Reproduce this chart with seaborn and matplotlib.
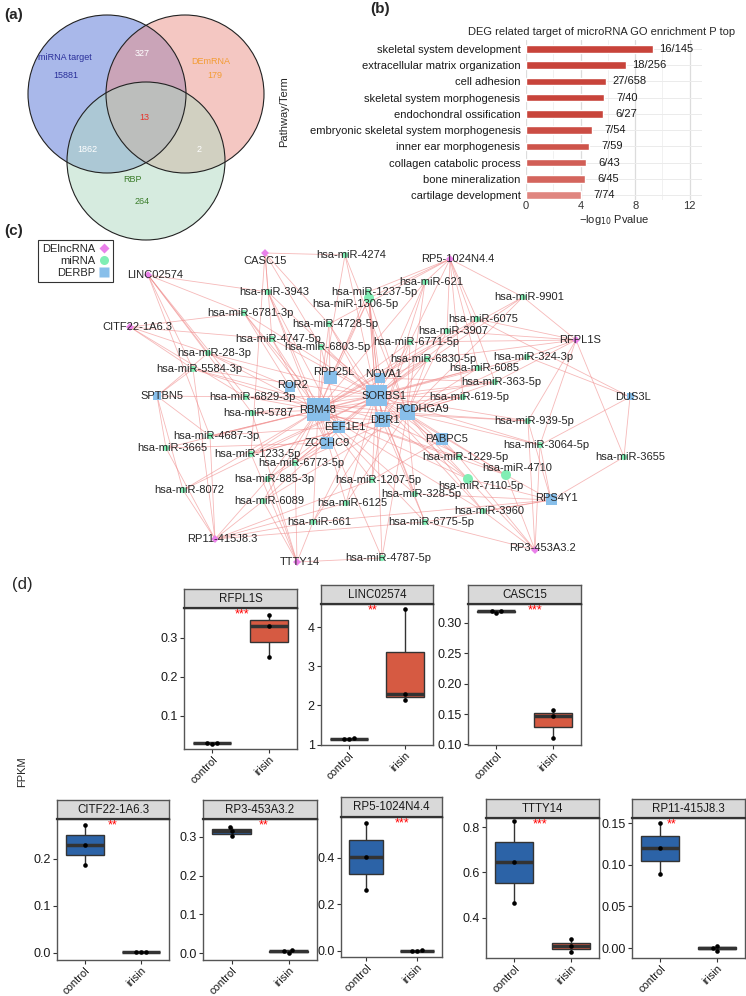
import matplotlib
matplotlib.use('Agg')
import matplotlib.pyplot as plt
from matplotlib.patches import Circle
from matplotlib.lines import Line2D
from matplotlib.collections import LineCollection
from matplotlib.ticker import FormatStrFormatter
import numpy as np
import pandas as pd
import seaborn as sns

# ---------------- data ----------------
# (a) Venn counts
venn_names = ['miRNA target', 'DEmRNA', 'RBP']
venn_only = [15881, 179, 264]
venn_ab, venn_ac, venn_bc, venn_abc = 327, 1862, 2, 13

# (b) GO enrichment
go_terms = ['skeletal system development', 'extracellular matrix organization', 'cell adhesion',
            'skeletal system morphogenesis', 'endochondral ossification',
            'embryonic skeletal system morphogenesis', 'inner ear morphogenesis',
            'collagen catabolic process', 'bone mineralization', 'cartilage development']
go_logp = [9.3, 7.35, 5.85, 5.75, 5.65, 4.85, 4.6, 4.4, 4.3, 4.0]
go_ratio = ['16/145', '18/256', '27/658', '7/40', '6/27', '7/54', '7/59', '6/43', '6/45', '7/74']

# (c) network
lncrnas = ['CASC15', 'LINC02574', 'CITF22-1A6.3', 'RP5-1024N4.4', 'RFPL1S',
           'RP11-415J8.3', 'TTTY14', 'RP3-453A3.2']
rbps = ['RBM48', 'SORBS1', 'PCDHGA9', 'DBR1', 'RPP25L', 'EEF1E1', 'ZCCHC9', 'ROR2',
        'NOVA1', 'PABPC5', 'RPS4Y1', 'SPTBN5', 'DUS3L']
mirnas = ['4274', '621', '3943', '1237-5p', '1306-5p', '6781-3p', '4728-5p', '4747-5p',
          '6803-5p', '6771-5p', '28-3p', '5584-3p', '6829-3p', '5787', '4687-3p', '3665',
          '1233-5p', '6773-5p', '885-3p', '8072', '6089', '1207-5p', '6125', '661',
          '4787-5p', '328-5p', '6775-5p', '3960', '7110-5p', '4710', '1229-5p', '3064-5p',
          '3655', '939-5p', '619-5p', '363-5p', '6085', '324-3p', '6830-5p', '3907',
          '6075', '9901']
lnc_targets = {
    'CASC15': ['4274', '3943', '4747-5p', '6803-5p', '4728-5p', '1233-5p'],
    'LINC02574': ['6781-3p', '28-3p', '5584-3p', '6829-3p', '5787', '3943', '4687-3p'],
    'CITF22-1A6.3': ['6781-3p', '28-3p', '5584-3p', '4747-5p', '6829-3p'],
    'RP5-1024N4.4': ['621', '1237-5p', '1306-5p', '9901', '6075', '3907', '6771-5p',
                     '6085', '363-5p', '4728-5p', '619-5p'],
    'RFPL1S': ['9901', '6075', '3907', '324-3p', '3064-5p', '3655', '939-5p', '6830-5p',
               '6771-5p', '363-5p'],
    'RP11-415J8.3': ['3665', '8072', '4687-3p', '885-3p', '661', '6125', '6775-5p',
                     '5584-3p', '1207-5p', '6089'],
    'TTTY14': ['4787-5p', '661', '885-3p', '6089', '1233-5p', '5787', '6773-5p'],
    'RP3-453A3.2': ['3960', '4710', '7110-5p', '1229-5p', '3064-5p', '939-5p', '6775-5p'],
}
mirna_rbp = {
    '4274': ['SORBS1', 'RBM48', 'PCDHGA9'],
    '621': ['SORBS1', 'DBR1', 'PCDHGA9', 'RBM48'],
    '3943': ['RBM48', 'SORBS1', 'EEF1E1', 'ZCCHC9'],
    '1237-5p': ['SORBS1', 'RBM48', 'DBR1', 'NOVA1'],
    '1306-5p': ['SORBS1', 'RBM48', 'PCDHGA9', 'RPP25L', 'DBR1'],
    '6781-3p': ['RBM48', 'ROR2', 'SORBS1', 'EEF1E1'],
    '4728-5p': ['SORBS1', 'RBM48', 'RPP25L', 'DBR1'],
    '4747-5p': ['RBM48', 'SORBS1', 'ZCCHC9'],
    '6803-5p': ['RBM48', 'SORBS1', 'PCDHGA9', 'EEF1E1'],
    '6771-5p': ['SORBS1', 'DBR1', 'PCDHGA9', 'RBM48'],
    '28-3p': ['SPTBN5', 'RBM48', 'SORBS1', 'ROR2'],
    '5584-3p': ['SPTBN5', 'RBM48', 'SORBS1', 'DBR1'],
    '6829-3p': ['RBM48', 'SORBS1', 'SPTBN5', 'PCDHGA9'],
    '5787': ['RBM48', 'SORBS1', 'DBR1'],
    '4687-3p': ['SPTBN5', 'RBM48', 'SORBS1', 'EEF1E1'],
    '3665': ['SPTBN5', 'RBM48', 'ZCCHC9'],
    '1233-5p': ['RBM48', 'SORBS1', 'DBR1', 'PCDHGA9'],
    '6773-5p': ['RBM48', 'SORBS1', 'EEF1E1', 'PCDHGA9'],
    '885-3p': ['RBM48', 'SORBS1', 'ZCCHC9'],
    '8072': ['SPTBN5', 'RBM48', 'SORBS1'],
    '6089': ['RBM48', 'SORBS1', 'PCDHGA9'],
    '1207-5p': ['SORBS1', 'RBM48', 'DBR1', 'PABPC5'],
    '6125': ['RBM48', 'SORBS1', 'PCDHGA9'],
    '661': ['RBM48', 'SORBS1', 'DBR1', 'RPS4Y1'],
    '4787-5p': ['SORBS1', 'RBM48', 'PCDHGA9'],
    '328-5p': ['SORBS1', 'RBM48', 'PCDHGA9', 'RPS4Y1'],
    '6775-5p': ['SORBS1', 'RBM48', 'DBR1', 'RPS4Y1'],
    '3960': ['PCDHGA9', 'SORBS1', 'RPS4Y1', 'RBM48'],
    '7110-5p': ['PCDHGA9', 'SORBS1', 'RBM48', 'RPS4Y1', 'DBR1'],
    '4710': ['PCDHGA9', 'SORBS1', 'RPS4Y1', 'DBR1', 'RBM48'],
    '1229-5p': ['PCDHGA9', 'SORBS1', 'RBM48', 'PABPC5'],
    '3064-5p': ['DUS3L', 'PCDHGA9', 'SORBS1', 'RPS4Y1'],
    '3655': ['DUS3L', 'RPS4Y1'],
    '939-5p': ['PCDHGA9', 'SORBS1', 'RBM48', 'RPS4Y1'],
    '619-5p': ['PCDHGA9', 'SORBS1', 'DBR1', 'RBM48'],
    '363-5p': ['PCDHGA9', 'SORBS1', 'RBM48', 'NOVA1'],
    '6085': ['SORBS1', 'PCDHGA9', 'RBM48'],
    '324-3p': ['DUS3L', 'SORBS1', 'PCDHGA9'],
    '6830-5p': ['SORBS1', 'RBM48', 'PCDHGA9', 'DBR1'],
    '3907': ['SORBS1', 'RBM48', 'PCDHGA9'],
    '6075': ['SORBS1', 'DUS3L', 'RBM48'],
    '9901': ['SORBS1', 'RBM48', 'PCDHGA9'],
}

# (d) FPKM values
box_genes = ['RFPL1S', 'LINC02574', 'CASC15', 'CITF22-1A6.3', 'RP3-453A3.2',
             'RP5-1024N4.4', 'TTTY14', 'RP11-415J8.3']
fpkm_control = {
    'RFPL1S': [0.029, 0.030, 0.031], 'LINC02574': [1.14, 1.15, 1.16],
    'CASC15': [0.317, 0.319, 0.320], 'CITF22-1A6.3': [0.188, 0.230, 0.272],
    'RP3-453A3.2': [0.302, 0.315, 0.326], 'RP5-1024N4.4': [0.26, 0.405, 0.55],
    'TTTY14': [0.465, 0.645, 0.825], 'RP11-415J8.3': [0.089, 0.120, 0.150]}
fpkm_irisin = {
    'RFPL1S': [0.25, 0.33, 0.36], 'LINC02574': [2.15, 2.30, 4.45],
    'CASC15': [0.111, 0.147, 0.156], 'CITF22-1A6.3': [0.001, 0.002, 0.003],
    'RP3-453A3.2': [0.001, 0.004, 0.008], 'RP5-1024N4.4': [0.000, 0.001, 0.002],
    'TTTY14': [0.25, 0.275, 0.305], 'RP11-415J8.3': [-0.003, 0.000, 0.003]}
signif = {'RFPL1S': '***', 'LINC02574': '**', 'CASC15': '***', 'CITF22-1A6.3': '**',
          'RP3-453A3.2': '**', 'RP5-1024N4.4': '***', 'TTTY14': '***', 'RP11-415J8.3': '**'}
box_yticks = {
    'RFPL1S': [0.1, 0.2, 0.3], 'LINC02574': [1, 2, 3, 4],
    'CASC15': [0.10, 0.15, 0.20, 0.25, 0.30], 'CITF22-1A6.3': [0.0, 0.1, 0.2],
    'RP3-453A3.2': [0.0, 0.1, 0.2, 0.3], 'RP5-1024N4.4': [0.0, 0.2, 0.4],
    'TTTY14': [0.4, 0.6, 0.8], 'RP11-415J8.3': [0.00, 0.05, 0.10, 0.15]}

# ---------------- layout (pixels) ----------------
venn_centers = [(107, 94), (185, 94), (146, 161)]
venn_r = 79
venn_name_pos = [(65, 58), (211, 61), (133, 179)]
venn_only_pos = [(66, 75), (215, 75), (142, 202)]
venn_mid_pos = {'ab': (142, 54), 'ac': (87, 149), 'bc': (199, 149), 'abc': (144, 117)}

lnc_pos = {'CASC15': (265, 253), 'LINC02574': (148, 275), 'CITF22-1A6.3': (130, 327),
           'RP5-1024N4.4': (450, 259), 'RFPL1S': (576, 340), 'RP11-415J8.3': (215, 539),
           'TTTY14': (297, 562), 'RP3-453A3.2': (535, 550)}
lnc_lab_off = {'CASC15': (0, 8), 'LINC02574': (7, 0), 'CITF22-1A6.3': (7, 0),
               'RP5-1024N4.4': (8, 0), 'RFPL1S': (4, 0), 'RP11-415J8.3': (7, 0),
               'TTTY14': (3, 0), 'RP3-453A3.2': (7, -2)}
rbp_pos = {'RBM48': (318, 410), 'SORBS1': (376, 396), 'PCDHGA9': (407, 413),
           'DBR1': (382, 420), 'RPP25L': (330, 378), 'EEF1E1': (339, 427),
           'ZCCHC9': (327, 443), 'ROR2': (290, 387), 'NOVA1': (380, 378),
           'PABPC5': (442, 439), 'RPS4Y1': (551, 500), 'SPTBN5': (157, 396),
           'DUS3L': (630, 397)}
rbp_lab_off = {'RBM48': (0, 0), 'SORBS1': (8, 0), 'PCDHGA9': (15, -4), 'DBR1': (3, 0),
               'RPP25L': (4, -6), 'EEF1E1': (6, 0), 'ZCCHC9': (0, 0), 'ROR2': (3, -2),
               'NOVA1': (4, -4), 'PABPC5': (5, 0), 'RPS4Y1': (5, -2), 'SPTBN5': (5, 0),
               'DUS3L': (3, 0)}
rbp_side = {'RBM48': 23, 'SORBS1': 21, 'PCDHGA9': 15, 'DBR1': 15, 'RPP25L': 13,
            'EEF1E1': 12, 'ZCCHC9': 12, 'ROR2': 10, 'NOVA1': 10, 'PABPC5': 12,
            'RPS4Y1': 11, 'SPTBN5': 8, 'DUS3L': 7}
mir_pos = {'4274': (345, 255), '621': (425, 282), '3943': (268, 292), '1237-5p': (368, 292),
           '1306-5p': (369, 298), '6781-3p': (244, 313), '4728-5p': (329, 324),
           '4747-5p': (272, 339), '6803-5p': (321, 347), '6771-5p': (410, 342),
           '28-3p': (208, 353), '5584-3p': (193, 369), '6829-3p': (246, 397),
           '5787': (252, 413), '4687-3p': (210, 436), '3665': (166, 448),
           '1233-5p': (251, 454), '6773-5p': (295, 463), '885-3p': (268, 479),
           '8072': (183, 490), '6089': (263, 501), '1207-5p': (372, 480),
           '6125': (346, 503), '661': (313, 522), '4787-5p': (382, 558),
           '328-5p': (415, 494), '6775-5p': (425, 522), '3960': (483, 511),
           '7110-5p': (468, 479), '4710': (506, 475), '1229-5p': (459, 457),
           '3064-5p': (540, 445), '3655': (624, 457), '939-5p': (528, 421),
           '619-5p': (463, 397), '363-5p': (495, 382), '6085': (478, 368),
           '324-3p': (527, 357), '6830-5p': (427, 359), '3907': (447, 331),
           '6075': (477, 319), '9901': (523, 297)}
mir_lab_off = {'1306-5p': (-14, 6), '7110-5p': (13, 7), '4710': (11, -7)}
mir_big = ['1306-5p', '7110-5p', '4710']

# (left, strip top, panel top, right, panel bottom)
box_layout = {'RFPL1S': (184, 589, 608, 297, 749), 'LINC02574': (321, 585, 604, 433, 745),
              'CASC15': (468, 585, 604, 581, 745), 'CITF22-1A6.3': (57, 800, 819, 169, 960),
              'RP3-453A3.2': (203, 800, 819, 317, 960), 'RP5-1024N4.4': (341, 797, 817, 442, 957),
              'TTTY14': (486, 799, 818, 599, 958), 'RP11-415J8.3': (632, 799, 818, 745, 958)}
box_ylim = {'RFPL1S': (0.015, 0.377), 'LINC02574': (0.99, 4.59), 'CASC15': (0.099, 0.331),
            'CITF22-1A6.3': (-0.015, 0.285), 'RP3-453A3.2': (-0.018, 0.346),
            'RP5-1024N4.4': (-0.026, 0.576), 'TTTY14': (0.223, 0.84),
            'RP11-415J8.3': (-0.012, 0.156)}
star_x = {'RFPL1S': 0.51, 'LINC02574': 0.46, 'CASC15': 0.59, 'CITF22-1A6.3': 0.5,
          'RP3-453A3.2': 0.53, 'RP5-1024N4.4': 0.6, 'TTTY14': 0.48, 'RP11-415J8.3': 0.35}

# ---------------- style ----------------
sns.set_style('white')
plt.rcParams['font.family'] = ['Liberation Sans', 'DejaVu Sans']
plt.rcParams['font.size'] = 8

W, H = 746, 996
fig = plt.figure(figsize=(W / 100, H / 100), dpi=100)


def px_axes(l, t, r, b):
    return fig.add_axes([l / W, 1 - b / H, (r - l) / W, (b - t) / H])


def fig_text(x, y, s, **kw):
    fig.text(x / W, 1 - y / H, s, **kw)


# ---------------- (a) Venn ----------------
ax_a = px_axes(0, 0, 290, 245)
ax_a.set_xlim(0, 290)
ax_a.set_ylim(245, 0)
ax_a.axis('off')
venn_fill = ['#5573d7', '#eb9187', '#afd9c1']
for (cx, cy), col in zip(venn_centers, venn_fill):
    ax_a.add_patch(Circle((cx, cy), venn_r, facecolor=col, alpha=0.5, edgecolor='none'))
for cx, cy in venn_centers:
    ax_a.add_patch(Circle((cx, cy), venn_r, fill=False, edgecolor='#222222', lw=0.8))
venn_txt_col = ['#2a2f9a', '#f39c33', '#3b7d2b']
for name, n, p1, p2, col in zip(venn_names, venn_only, venn_name_pos, venn_only_pos, venn_txt_col):
    ax_a.text(*p1, name, color=col, fontsize=6.5, ha='center', va='center')
    ax_a.text(*p2, str(n), color=col, fontsize=6.5, ha='center', va='center')
for key, n in zip(['ab', 'ac', 'bc'], [venn_ab, venn_ac, venn_bc]):
    ax_a.text(*venn_mid_pos[key], str(n), color='white', fontsize=6.5, ha='center', va='center')
ax_a.text(*venn_mid_pos['abc'], str(venn_abc), color='#e8322a', fontsize=6.5,
          ha='center', va='center')

# ---------------- (b) GO bars ----------------
ax_b = px_axes(526, 40, 702, 200)
p_vals = 10 ** (-np.array(go_logp))
t = 1 - p_vals / p_vals.max()
lo = np.array([0.878, 0.525, 0.50])
hi = np.array([0.784, 0.263, 0.227])
bar_cols = [tuple(lo + (hi - lo) * ti) for ti in t]
sns.barplot(x=go_logp, y=go_terms, hue=go_terms, palette=bar_cols, orient='h',
            width=0.47, legend=False, ax=ax_b, saturation=1)
ax_b.set_xlim(0, 12.9)
ax_b.set_ylim(9.3, -0.55)
ax_b.set_xticks([0, 4, 8, 12])
ax_b.set_xticks([2, 6, 10], minor=True)
ax_b.set_axisbelow(True)
ax_b.grid(True, which='major', axis='x', color='#dcdcdc', lw=0.9)
ax_b.grid(True, which='minor', axis='x', color='#efefef', lw=0.6)
ax_b.grid(True, which='major', axis='y', color='#ebebeb', lw=0.7)
sns.despine(ax=ax_b, left=True, bottom=True)
ax_b.tick_params(which='both', length=0, labelsize=8, pad=3)
ax_b.tick_params(axis='y', labelcolor='#1a1a1a', pad=4)
ax_b.tick_params(axis='x', labelcolor='#333333', pad=1)
for i, (v, lab) in enumerate(zip(go_logp, go_ratio)):
    ax_b.text(v + 1.7, i, lab, ha='center', va='center', fontsize=8, color='#1a1a1a')
ax_b.set_xlabel('\u2212log$_{10}$ Pvalue', fontsize=8, labelpad=1)
ax_b.set_ylabel('')
fig_text(602, 32, 'DEG related target of microRNA GO enrichment P top', fontsize=8,
         ha='center', va='center')
fig_text(284, 112, 'Pathway/Term', fontsize=8, rotation=90, ha='center', va='center')

# ---------------- (c) network ----------------
ax_c = px_axes(0, 235, 746, 575)
ax_c.set_xlim(0, 746)
ax_c.set_ylim(575, 235)
ax_c.axis('off')

segs = []
for lnc, targets in lnc_targets.items():
    for m in targets:
        segs.append([lnc_pos[lnc], mir_pos[m]])
for m, targets in mirna_rbp.items():
    for r in targets:
        segs.append([mir_pos[m], rbp_pos[r]])
ax_c.add_collection(LineCollection(segs, colors='#f08a8a', linewidths=0.6, alpha=0.6, zorder=1))

node_rows = []
for n in lncrnas:
    node_rows.append((n, 'DElncRNA', lnc_pos[n][0], lnc_pos[n][1], 16))
for m in mirnas:
    area = 52 if m in mir_big else 20
    node_rows.append(('hsa-miR-' + m, 'miRNA', mir_pos[m][0], mir_pos[m][1], area))
for r in rbps:
    node_rows.append((r, 'DERBP', rbp_pos[r][0], rbp_pos[r][1], (0.72 * rbp_side[r]) ** 2))
nodes = pd.DataFrame(node_rows, columns=['name', 'type', 'x', 'y', 'area'])
node_pal = {'DElncRNA': '#ea80ea', 'miRNA': '#80eeb4', 'DERBP': '#88bfea'}
node_mark = {'DElncRNA': 'D', 'miRNA': 'o', 'DERBP': 's'}
amin, amax = nodes['area'].min(), nodes['area'].max()
sns.scatterplot(data=nodes, x='x', y='y', hue='type', style='type', size='area',
                sizes=(amin, amax), size_norm=(amin, amax), palette=node_pal,
                markers=node_mark, linewidth=0, legend=False, ax=ax_c, zorder=2)
ax_c.set_xlim(0, 746)
ax_c.set_ylim(575, 235)

for n in lncrnas:
    dx, dy = lnc_lab_off[n]
    ax_c.text(lnc_pos[n][0] + dx, lnc_pos[n][1] + dy, n, ha='center', va='center',
              fontsize=8, zorder=4)
for m in mirnas:
    dx, dy = mir_lab_off.get(m, (6, 0))
    ax_c.text(mir_pos[m][0] + dx, mir_pos[m][1] + dy, 'hsa-miR-' + m, ha='center',
              va='center', fontsize=8, zorder=4)
for r in rbps:
    dx, dy = rbp_lab_off[r]
    ax_c.text(rbp_pos[r][0] + dx, rbp_pos[r][1] + dy, r, ha='center', va='center',
              fontsize=8, zorder=4)

handles = [Line2D([], [], marker=node_mark[k], linestyle='none', markerfacecolor=node_pal[k],
                  markeredgecolor='none', markersize=ms)
           for k, ms in zip(['DElncRNA', 'miRNA', 'DERBP'], [5, 6.5, 7])]
leg = fig.legend(handles, ['DElncRNA', 'miRNA', 'DERBP'], loc='upper left',
                 bbox_to_anchor=(38 / W, 1 - 240 / H), markerfirst=False, frameon=True,
                 fancybox=False, edgecolor='black', borderpad=0.35, labelspacing=0.2,
                 handletextpad=0.3, handlelength=1.0, fontsize=8, borderaxespad=0)
leg.get_frame().set_linewidth(0.8)

# ---------------- (d) boxplots ----------------
box_pal = {'control': '#2c63a7', 'irisin': '#d65a42'}
for g in box_genes:
    l, st, pt, r, pb = box_layout[g]
    df = pd.DataFrame({'group': ['control'] * 3 + ['irisin'] * 3,
                       'FPKM': fpkm_control[g] + fpkm_irisin[g]})
    ax = px_axes(l, pt, r, pb)
    sns.boxplot(data=df, x='group', y='FPKM', hue='group', palette=box_pal, width=0.68,
                linewidth=1, linecolor='#333333', showfliers=False, showcaps=False,
                medianprops={'linewidth': 2.5}, saturation=1, legend=False, ax=ax)
    sns.swarmplot(data=df, x='group', y='FPKM', color='black', size=3.3, ax=ax)
    ax.set_xlim(-0.5, 1.5)
    ax.set_ylim(*box_ylim[g])
    ax.set_yticks(box_yticks[g])
    fmt = '%.2f' if g in ('CASC15', 'RP11-415J8.3') else ('%d' if g == 'LINC02574' else '%.1f')
    ax.yaxis.set_major_formatter(FormatStrFormatter(fmt))
    ax.set_xlabel('')
    ax.set_ylabel('')
    for sp in ax.spines.values():
        sp.set_color('#555555')
        sp.set_linewidth(1)
    ax.tick_params(length=3, width=0.8, color='#333333', labelcolor='#1a1a1a',
                   pad=1.5, left=True, bottom=True)
    ax.tick_params(axis='y', labelsize=9)
    ax.tick_params(axis='x', labelsize=8, pad=1)
    for lab in ax.get_xticklabels():
        lab.set_rotation(45)
        lab.set_ha('right')
        lab.set_rotation_mode('anchor')
    ax.text(star_x[g], 0.955, signif[g], transform=ax.transAxes, color='red', fontsize=9,
            ha='center', va='center')
    sax = px_axes(l, st, r, pt)
    sax.set_facecolor('#d9d9d9')
    sax.set_xticks([])
    sax.set_yticks([])
    for sp in sax.spines.values():
        sp.set_color('#555555')
        sp.set_linewidth(1)
    sax.spines['bottom'].set_color('#333333')
    sax.spines['bottom'].set_linewidth(1.6)
    sax.text(0.5, 0.5, g, transform=sax.transAxes, ha='center', va='center', fontsize=8.3,
             color='#1a1a1a')

fig_text(22, 772, 'FPKM', rotation=90, ha='center', va='center', fontsize=8)

# panel letters
fig_text(14, 15, '(a)', fontsize=11, fontweight='bold', ha='center', va='center')
fig_text(380, 9, '(b)', fontsize=11, fontweight='bold', ha='center', va='center')
fig_text(14, 231, '(c)', fontsize=11, fontweight='bold', ha='center', va='center')
fig_text(22, 585, '(d)', fontsize=12, ha='center', va='center')

fig.savefig('out.png', dpi=100)
